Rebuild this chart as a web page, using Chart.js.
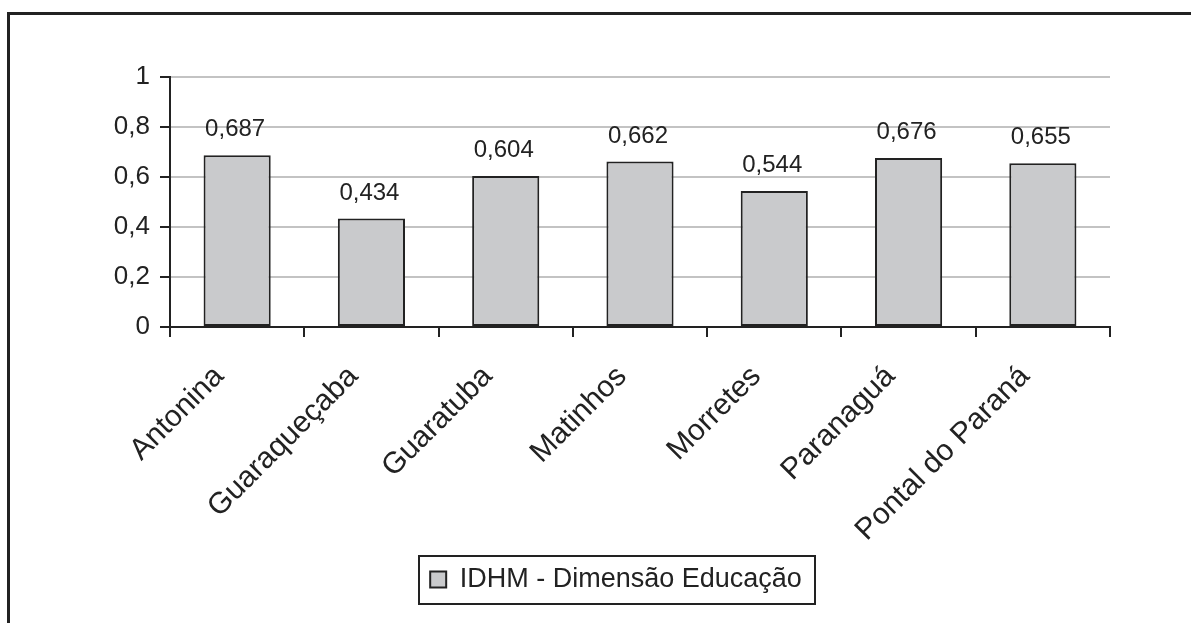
<!DOCTYPE html>
<html lang="pt-BR">
<head>
<meta charset="utf-8">
<title>IDHM - Dimensão Educação</title>
<script src="https://cdn.jsdelivr.net/npm/chart.js@4.4.1/dist/chart.umd.min.js"></script>
<style>
  html, body { margin: 0; padding: 0; background: #ffffff; overflow: hidden; }
  #wrap { position: relative; width: 1191px; height: 623px; overflow: hidden; }
  canvas { display: block; }
</style>
</head>
<body>
<div id="wrap"><canvas id="grafico" width="1232" height="623"></canvas></div>
<script>
// Municípios do litoral paranaense
const categorias = ['Antonina', 'Guaraqueçaba', 'Guaratuba', 'Matinhos', 'Morretes', 'Paranaguá', 'Pontal do Paraná'];
// IDHM - Dimensão Educação por município
const idhmEducacao = [0.687, 0.434, 0.604, 0.662, 0.544, 0.676, 0.655];
const nomeSerie = 'IDHM - Dimensão Educação';
// Marcas do eixo vertical
const marcasY = [0, 0.2, 0.4, 0.6, 0.8, 1];

const TINTA = '#222222';
const FONTE = "'Liberation Sans', Arial, Helvetica, sans-serif";

const virgula = v => String(v).replace('.', ',');

// Moldura externa do gráfico
const moldura = {
  id: 'moldura',
  beforeDraw(chart) {
    const ctx = chart.ctx;
    ctx.save();
    ctx.strokeStyle = TINTA;
    ctx.lineWidth = 3;
    ctx.beginPath();
    ctx.moveTo(8.5, chart.height + 5);
    ctx.lineTo(8.5, 13.5);
    ctx.lineTo(chart.width + 5, 13.5);
    ctx.stroke();
    ctx.restore();
  }
};

// Valores escritos acima de cada barra
const rotulosValores = {
  id: 'rotulosValores',
  afterDatasetsDraw(chart) {
    const ctx = chart.ctx;
    const meta = chart.getDatasetMeta(0);
    ctx.save();
    ctx.font = '24px ' + FONTE;
    ctx.fillStyle = TINTA;
    ctx.textAlign = 'center';
    ctx.textBaseline = 'alphabetic';
    meta.data.forEach((barra, i) => {
      const v = chart.data.datasets[0].data[i];
      ctx.fillText(v.toFixed(3).replace('.', ','), barra.x - 2, barra.y - 19);
    });
    ctx.restore();
  }
};

// Caixa ao redor da legenda
const caixaLegenda = {
  id: 'caixaLegenda',
  afterDraw(chart) {
    const lg = chart.legend;
    if (!lg || !lg.legendHitBoxes || !lg.legendHitBoxes.length) return;
    const hb = lg.legendHitBoxes[0];
    const ctx = chart.ctx;
    ctx.save();
    ctx.strokeStyle = TINTA;
    ctx.lineWidth = 2;
    const x0 = Math.round(hb.left - 11);
    const x1 = Math.round(hb.left + hb.width + 13);
    const y0 = Math.round(hb.top - 10);
    const y1 = Math.round(hb.top + hb.height + 11);
    ctx.strokeRect(x0, y0, x1 - x0, y1 - y0);
    ctx.restore();
  }
};

new Chart(document.getElementById('grafico'), {
  type: 'bar',
  data: {
    labels: categorias,
    datasets: [{
      label: nomeSerie,
      data: idhmEducacao,
      backgroundColor: '#c9cacc',
      borderColor: TINTA,
      borderWidth: 2,
      borderSkipped: false,
      barPercentage: 0.5,
      categoryPercentage: 1.0
    }]
  },
  options: {
    responsive: false,
    animation: false,
    devicePixelRatio: 1,
    layout: { padding: { left: 0, right: 0, top: 77, bottom: 20 } },
    plugins: {
      tooltip: { enabled: false },
      legend: {
        position: 'bottom',
        align: 'center',
        labels: {
          boxWidth: 16,
          boxHeight: 16,
          padding: 10,
          color: TINTA,
          font: { family: FONTE, size: 27 }
        }
      }
    },
    scales: {
      x: {
        afterFit(scale) { scale.height = 229; },
        grid: {
          display: true,
          drawOnChartArea: false,
          drawTicks: true,
          tickLength: 10,
          color: TINTA,
          lineWidth: 2,
          offset: true
        },
        border: { display: true, color: TINTA, width: 2 },
        ticks: {
          autoSkip: false,
          minRotation: 45,
          maxRotation: 45,
          padding: 22,
          labelOffset: -18,
          color: TINTA,
          font: { family: FONTE, size: 30 }
        }
      },
      y: {
        min: 0,
        max: 1,
        afterFit(scale) { scale.width = 170; },
        afterBuildTicks(scale) { scale.ticks = marcasY.map(v => ({ value: v })); },
        grid: {
          drawTicks: true,
          tickLength: 10,
          lineWidth: 2,
          color: ctx => (ctx.tick && ctx.tick.value === 0) ? TINTA : '#c3c3c3',
          tickColor: TINTA
        },
        border: { display: true, color: TINTA, width: 2 },
        ticks: {
          padding: 10,
          color: TINTA,
          font: { family: FONTE, size: 26 },
          callback: v => virgula(v)
        }
      },
      // margem branca à direita da área de plotagem
      margemDireita: {
        type: 'linear',
        position: 'right',
        display: true,
        afterFit(scale) { scale.width = 122; },
        grid: { display: false },
        border: { display: false },
        ticks: { display: false }
      }
    }
  },
  plugins: [moldura, rotulosValores, caixaLegenda]
});
</script>
</body>
</html>
